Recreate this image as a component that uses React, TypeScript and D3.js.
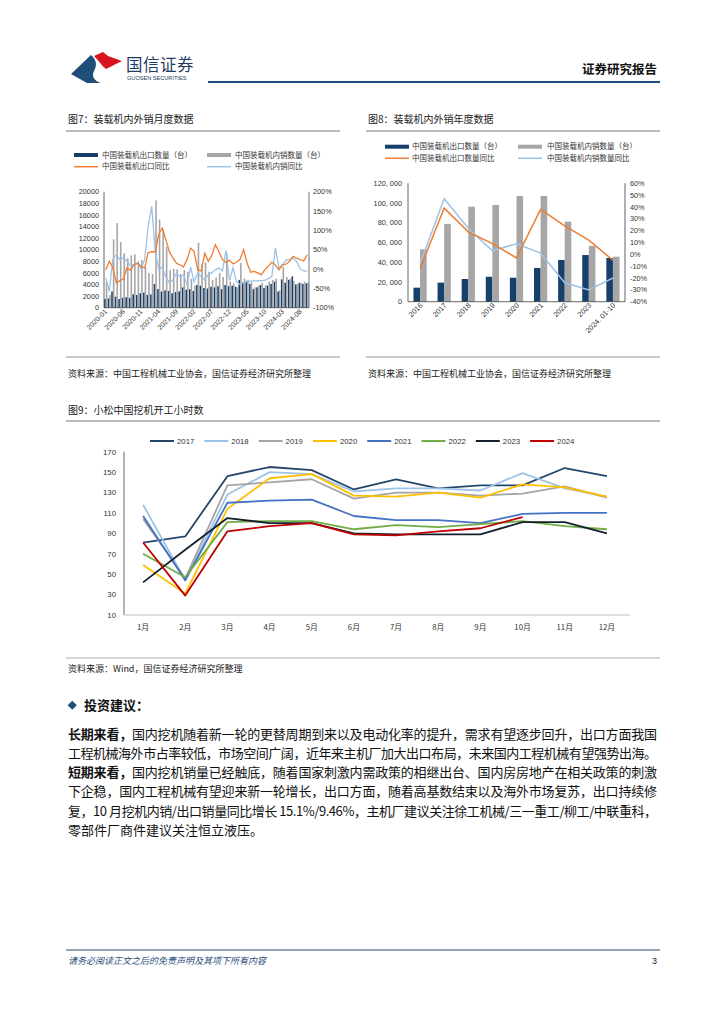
import React from 'react';
import * as d3 from 'd3';

const FONT = '"Liberation Sans", "Noto Sans CJK SC", sans-serif';
const CJK = '"Noto Sans CJK SC", "Liberation Sans", sans-serif';

// 图7：装载机内外销月度数据 (2020-01 ~ 2024-10)
const months7 = d3.timeMonth.range(new Date(2020, 0, 1), new Date(2024, 10, 1)).map(d3.timeFormat('%Y-%m'));
const exportMonthly = [
  1500, 1600, 2800, 1900, 1500, 1700, 1800, 1700, 2300, 2200, 2500, 2600,
  2200, 2300, 4100, 3200, 2800, 3000, 2900, 2500, 2700, 2800, 3500, 3100,
  3200, 2900, 3900, 3800, 3400, 3300, 3600, 3500, 3700, 3200, 3900, 3700,
  3800, 3600, 4800, 4400, 4400, 4100, 3200, 3500, 3900, 3400, 3800, 4100,
  4500, 2800, 4900, 4300, 4800, 5400, 4000, 4300, 4100, 4200,
];
const domesticMonthly = [
  4500, 2200, 11800, 14600, 11300, 9400, 8500, 9000, 9200, 8000, 8200, 7000,
  6000, 5800, 18500, 15200, 13400, 10500, 6500, 6700, 6600, 5800, 6500, 6200,
  5000, 3800, 11200, 7500, 7800, 6200, 4800, 5200, 6000, 5300, 9400, 4500,
  4200, 3500, 7700, 5000, 4800, 4400, 3500, 3800, 4300, 3900, 4500, 4800,
  5000, 3000, 7000, 5300, 5000, 4600, 4100, 4300, 4500, 4300,
];
const exportYoY = [
  -2, 20, 4, -36, -30, -25, 3, -3, 11, 15, 7, 3,
  42, 45, 44, 90, 106, 76, 45, 28, 15, 11, 5, 25,
  54, 45, -2, -5, 41, 20, 35, 63, 45, 25, 17, 23,
  13, 18, 25, 50, 15, -8, -6, -10, -15, -2, 7, 18,
  10, -2, 10, 13, 20, 33, 28, 24, 21, 37,
];
const domesticYoY = [
  -23, -58, 25, 37, 24, 30, 20, 9, 12, 15, 0, 25,
  110, 162, 45, -1, 5, -21, -36, -28, -11, -20, -15, -40,
  5, -33, -10, -20, -28, -15, -10, -2, 3, -5, 48, -30,
  3, -33, -40, -35, -30, -32, -30, -31, -30, -29, -25, -19,
  54, 3, 11, 24, 25, 28, 20, 0, -5, -6,
];

// 图8：装载机内外销年度数据
const years8 = ['2016', '2017', '2018', '2019', '2020', '2021', '2022', '2023', '2024. 01-10'];
const exportYearly = [14200, 19300, 23000, 25300, 24300, 34200, 42300, 47300, 44300];
const domesticYearly = [53100, 78700, 96300, 98000, 107100, 107100, 81100, 56500, 45600];
const exportYearlyYoY = [-12, 39, 19, 9, -3, 38, 24, 12, -5];
const domesticYearlyYoY = [-8, 47, 22, 3, 9, 1, -24, -30, -20];

// 图9：小松中国挖机开工小时数
const months9 = ['1月', '2月', '3月', '4月', '5月', '6月', '7月', '8月', '9月', '10月', '11月', '12月'];
const series9 = [
  { name: '2017', color: '#24466b', values: [81, 87, 146, 155, 152, 133, 143, 134, 137, 137, 154, 146] },
  { name: '2018', color: '#9dc3e6', values: [118, 44, 128, 150, 148, 131, 134, 134, 132, 149, 134, 126] },
  { name: '2019', color: '#a5a5a5', values: [104, 46, 137, 140, 143, 124, 130, 130, 127, 129, 136, 125] },
  { name: '2020', color: '#ffc000', values: [59, 31, 114, 144, 148, 127, 126, 130, 125, 138, 135, 126] },
  { name: '2021', color: '#4472c4', values: [107, 44, 120, 122, 123, 107, 103, 103, 100, 109, 110, 110] },
  { name: '2022', color: '#70ad47', values: [70, 47, 101, 102, 102, 94, 98, 96, 99, 102, 97, 94] },
  { name: '2023', color: '#14202e', values: [42, 74, 105, 100, 100, 90, 89, 89, 89, 101, 101, 90] },
  { name: '2024', color: '#c00000', values: [81, 29, 92, 97, 100, 89, 88, 92, 95, 106] },
];
const yTicks9 = [10, 30, 50, 70, 90, 110, 130, 150, 170];

const paragraph = [
  { bold: '长期来看，', rest: '国内挖机随着新一轮的更替周期到来以及电动化率的提升，需求有望逐步回升，出口方面我国', justify: true },
  { bold: '', rest: '工程机械海外市占率较低，市场空间广阔，近年来主机厂加大出口布局，未来国内工程机械有望强势出海。', justify: true },
  { bold: '短期来看，', rest: '国内挖机销量已经触底，随着国家刺激内需政策的相继出台、国内房房地产在相关政策的刺激', justify: true },
  { bold: '', rest: '下企稳，国内工程机械有望迎来新一轮增长，出口方面，随着高基数结束以及海外市场复苏，出口持续修', justify: true },
  { bold: '', rest: '复，10 月挖机内销/出口销量同比增长 15.1%/9.46%，主机厂建议关注徐工机械/三一重工/柳工/中联重科，', justify: true },
  { bold: '', rest: '零部件厂商件建议关注恒立液压。', justify: false },
];

const EXP = '#173f6b';
const DOM = '#a6a6a6';
const ORANGE = '#ed7d31';
const LBLUE = '#9dc3e6';

function Chart7() {
  const x = d3.scaleBand<string>().domain(months7).range([104, 309]).paddingInner(0.1).paddingOuter(0.05);
  const yL = d3.scaleLinear().domain([0, 20000]).range([307.7, 191.7]);
  const yR = d3.scaleLinear().domain([-100, 200]).range([307.7, 191.7]);
  const bw = x.bandwidth() / 2;
  const cx = (i: number) => (x(months7[i]) as number) + x.bandwidth() / 2;
  const line = d3.line<number>().x((_, i) => cx(i)).y(d => yR(d)).curve(d3.curveLinear);
  const xLabels = months7.filter((_, i) => i % 5 === 0);
  return (
    <g fontFamily={FONT}>
      <text x={68} y={123} fontSize={10} fontFamily={CJK} fill="#222">图7：装载机内外销月度数据</text>
      <line x1={66} x2={340} y1={131} y2={131} stroke="#555" strokeWidth={0.8} />
      {/* legend */}
      <g fontFamily={CJK} fontSize={7.5} fill="#333">
        <rect x={74} y={153} width={24} height={4} fill={EXP} />
        <text x={102} y={157.7}>中国装载机出口数量（台）</text>
        <rect x={207} y={153} width={24} height={4} fill={DOM} />
        <text x={235} y={157.7}>中国装载机内销数量（台）</text>
        <line x1={74} x2={98} y1={166.7} y2={166.7} stroke={ORANGE} strokeWidth={1.5} />
        <text x={102} y={169.4}>中国装载机出口同比</text>
        <line x1={207} x2={231} y1={166.7} y2={166.7} stroke={LBLUE} strokeWidth={1.5} />
        <text x={235} y={169.4}>中国装载机内销同比</text>
      </g>
      {months7.map((m, i) => (
        <g key={m}>
          <rect x={x(m)} y={yL(exportMonthly[i])} width={bw} height={yL(0) - yL(exportMonthly[i])} fill={EXP} />
          <rect x={(x(m) as number) + bw} y={yL(domesticMonthly[i])} width={bw} height={yL(0) - yL(domesticMonthly[i])} fill={DOM} />
        </g>
      ))}
      <path d={line(domesticYoY) as string} fill="none" stroke={LBLUE} strokeWidth={1.3} />
      <path d={line(exportYoY) as string} fill="none" stroke={ORANGE} strokeWidth={1.3} />
      <line x1={104} x2={104} y1={191.7} y2={307.7} stroke="#404040" strokeWidth={0.8} />
      <line x1={309} x2={309} y1={191.7} y2={307.7} stroke="#44546a" strokeWidth={0.8} />
      <line x1={104} x2={309} y1={307.7} y2={307.7} stroke="#404040" strokeWidth={0.8} />
      {yL.ticks(10).map(t => (
        <text key={t} x={99} y={yL(t) + 2.6} fontSize={7.3} textAnchor="end" fill="#333">{t}</text>
      ))}
      {d3.range(-100, 201, 50).map(t => (
        <text key={t} x={313} y={yR(t) + 2.6} fontSize={7.3} fill="#333">{`${t}%`}</text>
      ))}
      {xLabels.map(m => {
        const px = (x(m) as number) + x.bandwidth() / 2 + 2;
        return (
          <text key={m} transform={`translate(${px},${312}) rotate(-45)`} fontSize={7} textAnchor="end" fill="#333">{m}</text>
        );
      })}
      <line x1={66} x2={340} y1={357} y2={357} stroke="#777" strokeWidth={0.8} />
      <text x={68} y={377} fontSize={9} fontFamily={CJK} fill="#222">资料来源：中国工程机械工业协会，国信证券经济研究所整理</text>
    </g>
  );
}

function Chart8() {
  const x = d3.scaleBand<string>().domain(years8).range([408, 625]);
  const yL = d3.scaleLinear().domain([0, 120000]).range([301.7, 183.3]);
  const yR = d3.scaleLinear().domain([-40, 60]).range([301.7, 183.3]);
  const bw = 6.6;
  const cx = (i: number) => (x(years8[i]) as number) + x.bandwidth() / 2;
  const line = d3.line<number>().x((_, i) => cx(i)).y(d => yR(d));
  const fmt = (v: number) => (v === 0 ? '0' : d3.format(',')(v).replace(',', ', '));
  return (
    <g fontFamily={FONT}>
      <text x={368} y={123} fontSize={10} fontFamily={CJK} fill="#222">图8：装载机内外销年度数据</text>
      <line x1={366} x2={660} y1={131} y2={131} stroke="#555" strokeWidth={0.8} />
      <g fontFamily={CJK} fontSize={7.5} fill="#333">
        <rect x={385} y={144.7} width={24} height={4} fill={EXP} />
        <text x={412} y={149.4}>中国装载机出口数量（台）</text>
        <rect x={518} y={144.7} width={24} height={4} fill={DOM} />
        <text x={547} y={149.4}>中国装载机内销数量（台）</text>
        <line x1={385} x2={409} y1={158.3} y2={158.3} stroke={ORANGE} strokeWidth={1.5} />
        <text x={412} y={161} >中国装载机出口数量同比</text>
        <line x1={518} x2={542} y1={158.3} y2={158.3} stroke={LBLUE} strokeWidth={1.5} />
        <text x={547} y={161}>中国装载机内销数量同比</text>
      </g>
      {years8.map((yr, i) => (
        <g key={yr}>
          <rect x={cx(i) - bw} y={yL(exportYearly[i])} width={bw} height={yL(0) - yL(exportYearly[i])} fill={EXP} />
          <rect x={cx(i)} y={yL(domesticYearly[i])} width={bw} height={yL(0) - yL(domesticYearly[i])} fill={DOM} />
        </g>
      ))}
      <path d={line(domesticYearlyYoY) as string} fill="none" stroke={LBLUE} strokeWidth={1.5} />
      <path d={line(exportYearlyYoY) as string} fill="none" stroke={ORANGE} strokeWidth={1.5} />
      <line x1={408} x2={408} y1={183.3} y2={301.7} stroke="#404040" strokeWidth={0.8} />
      <line x1={625} x2={625} y1={183.3} y2={301.7} stroke="#44546a" strokeWidth={0.9} />
      <line x1={408} x2={625} y1={301.7} y2={301.7} stroke="#404040" strokeWidth={0.8} />
      {d3.range(0, 120001, 20000).map(t => (
        <text key={t} x={402} y={yL(t) + 2.6} fontSize={7.3} textAnchor="end" fill="#333">{fmt(t)}</text>
      ))}
      {d3.range(-40, 61, 10).map(t => (
        <text key={t} x={630} y={yR(t) + 2.6} fontSize={7.3} fill="#333">{`${t}%`}</text>
      ))}
      {years8.map((yr, i) => (
        <text key={yr} transform={`translate(${cx(i) + 3},${306}) rotate(-45)`} fontSize={7.3} textAnchor="end" fill="#333">{yr}</text>
      ))}
      <line x1={366} x2={660} y1={357} y2={357} stroke="#777" strokeWidth={0.8} />
      <text x={368} y={377} fontSize={9} fontFamily={CJK} fill="#222">资料来源：中国工程机械工业协会，国信证券经济研究所整理</text>
    </g>
  );
}

function Chart9() {
  const x = d3.scaleBand<string>().domain(months9).range([122, 628]);
  const y = d3.scaleLinear().domain([10, 170]).range([615, 451.7]);
  const cx = (i: number) => (x(months9[i]) as number) + x.bandwidth() / 2;
  const line = d3.line<number>().x((_, i) => cx(i)).y(d => y(d));
  const legendX = d3.scaleLinear().domain([0, 1]).range([150, 204.3]);
  return (
    <g fontFamily={FONT}>
      <text x={68} y={414} fontSize={10} fontFamily={CJK} fill="#222">图9：小松中国挖机开工小时数</text>
      <line x1={66} x2={660} y1={421} y2={421} stroke="#555" strokeWidth={0.8} />
      {series9.map((s, i) => (
        <g key={s.name}>
          <line x1={legendX(i)} x2={legendX(i) + 24} y1={441} y2={441} stroke={s.color} strokeWidth={2} />
          <text x={legendX(i) + 27} y={443.8} fontSize={7.8} fill="#333">{s.name}</text>
        </g>
      ))}
      <line x1={124} x2={124} y1={451.7} y2={615} stroke="#404040" strokeWidth={0.8} />
      <line x1={124} x2={630} y1={615} y2={615} stroke="#b0b0b0" strokeWidth={0.8} />
      {yTicks9.map(t => (
        <text key={t} x={116} y={y(t) + 2.8} fontSize={7.8} textAnchor="end" fill="#333">{t}</text>
      ))}
      {months9.map((m, i) => (
        <text key={m} x={cx(i)} y={630} fontSize={7.8} textAnchor="middle" fontFamily={CJK} fill="#333">{m}</text>
      ))}
      {series9.map(s => (
        <path key={s.name} d={line(s.values) as string} fill="none" stroke={s.color} strokeWidth={1.8} strokeLinejoin="round" />
      ))}
      <line x1={66} x2={660} y1={658} y2={658} stroke="#999" strokeWidth={0.8} />
      <text x={68} y={672} fontSize={9} fontFamily={CJK} fill="#222">资料来源：Wind，国信证券经济研究所整理</text>
    </g>
  );
}

function Header() {
  return (
    <g>
      <path d="M71,74 L91,55 C97,60 97,66 94,71 C91,77 95,81 101,83 L87,83 Z" fill="#1f4e79" />
      <path d="M94,56 L103,52 L108,56 L122,61 L106,69 C102,66 99,61 94,56 Z" fill="#d7151f" />
      <text x={126} y={71} fontSize={16.5} fontFamily={CJK} fill="#1f3c5e" letterSpacing={0.5}>国信证券</text>
      <text x={127} y={80} fontSize={5.6} fontFamily={FONT} fill="#1f3c5e">GUOSEN SECURITIES</text>
      <line x1={208} x2={660} y1={82} y2={82} stroke="#1f4e79" strokeWidth={2.2} />
      <text x={657} y={74} fontSize={12.5} fontWeight={700} fontFamily={CJK} textAnchor="end" fill="#111">证券研究报告</text>
    </g>
  );
}

function Body() {
  const top = 738.5;
  const gap = 19.3;
  return (
    <g fontFamily={CJK} fill="#111">
      <rect x={69} y={702} width={6.5} height={6.5} fill="#1f4e79" transform="rotate(45 72.25 705.25)" />
      <text x={84} y={710} fontSize={13} fontWeight={700}>投资建议：</text>
      {paragraph.map((p, i) => (
        <text key={i} x={68} y={top + i * gap} fontSize={13}
          {...(p.justify ? { textLength: 589, lengthAdjust: 'spacing' } : {})}>
          {p.bold ? <tspan fontWeight={700}>{p.bold}</tspan> : null}
          {p.rest}
        </text>
      ))}
    </g>
  );
}

function Footer() {
  return (
    <g fontFamily={CJK}>
      <line x1={66} x2={660} y1={950} y2={950} stroke="#1f4e79" strokeWidth={1} />
      <text x={68} y={964} fontSize={9} fontStyle="italic" fill="#1f4e79" transform="skewX(0)">请务必阅读正文之后的免责声明及其项下所有内容</text>
      <text x={657} y={964} fontSize={9} textAnchor="end" fontFamily={FONT} fill="#222">3</text>
    </g>
  );
}

export default function App() {
  return (
    <div style={{ position: 'absolute', left: 0, top: 0 }}>
      <svg width={724} height={1024} viewBox="0 0 724 1024" style={{ display: 'block', background: '#fff' }}>
        <Header />
        <Chart7 />
        <Chart8 />
        <Chart9 />
        <Body />
        <Footer />
      </svg>
    </div>
  );
}
